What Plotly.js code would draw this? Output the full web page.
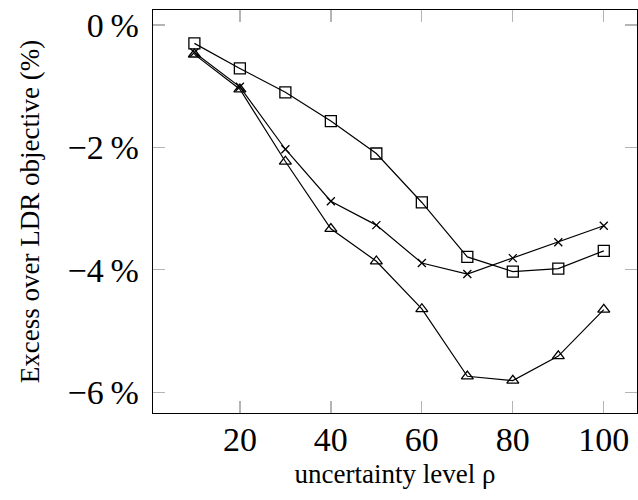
<!DOCTYPE html>
<html>
<head>
<meta charset="utf-8">
<script src="https://cdn.plot.ly/plotly-3.0.1.min.js"></script>
<style>
  html, body { margin: 0; padding: 0; background: #fff; }
  #chart { width: 638px; height: 500px; }
</style>
</head>
<body>
<div id="chart"></div>
<script>
// Uncertainty levels rho
const rho = [10, 20, 30, 40, 50, 60, 70, 80, 90, 100];

// Excess over the LDR objective, in percent, for three policies
const squareSeries   = [-0.30, -0.71, -1.10, -1.57, -2.10, -2.90, -3.79, -4.03, -3.98, -3.69];
const crossSeries    = [-0.45, -1.01, -2.03, -2.88, -3.27, -3.89, -4.07, -3.81, -3.55, -3.28];
const triangleSeries = [-0.48, -1.05, -2.23, -3.33, -3.86, -4.64, -5.74, -5.81, -5.41, -4.65];

// Axis ticks
const xTicks = [20, 40, 60, 80, 100];
const yTicks = [0, -2, -4, -6];
const yTickText = ['0\u2009%', '\u22122\u2009%', '\u22124\u2009%', '\u22126\u2009%'];

const serif = 'Liberation Serif, Times New Roman, serif';

function series(y, symbol, size) {
  return {
    x: rho,
    y: y,
    type: 'scatter',
    mode: 'lines+markers',
    line: { color: '#000', width: 1.2 },
    marker: { symbol: symbol, size: size, color: '#000', line: { color: '#000', width: 1.3 } },
    showlegend: false,
    hoverinfo: 'skip'
  };
}

const data = [
  series(squareSeries, 'square-open', 11),
  series(crossSeries, 'x-thin-open', 8),
  series(triangleSeries, 'triangle-up-open', 10.5)
];

const axisCommon = {
  showgrid: false,
  zeroline: false,
  showline: true,
  linecolor: '#000',
  linewidth: 1.3,
  mirror: 'ticks',
  ticks: 'inside',
  ticklen: 12,
  tickwidth: 1.3,
  tickcolor: '#b4b4b4',
  tickfont: { family: serif, size: 34, color: '#000' }
};

const layout = {
  width: 638,
  height: 500,
  margin: { l: 153, r: 1, t: 10, b: 87 },
  paper_bgcolor: '#fff',
  plot_bgcolor: '#fff',
  xaxis: Object.assign({}, axisCommon, {
    range: [0.9, 107.3],
    tickvals: xTicks,
    ticktext: xTicks.map(String),
    ticklabelstandoff: -4,
    title: { text: 'uncertainty level \u03c1', font: { family: serif, size: 27, color: '#000' }, standoff: 7 }
  }),
  yaxis: Object.assign({}, axisCommon, {
    range: [-6.34, 0.245],
    tickvals: yTicks,
    ticktext: yTickText,
    ticklabelstandoff: 6,
    title: { text: 'Excess over LDR objective (%)', font: { family: serif, size: 27, color: '#000' }, standoff: 20 }
  })
};

Plotly.newPlot('chart', data, layout, { displayModeBar: false, staticPlot: true });
</script>
</body>
</html>
